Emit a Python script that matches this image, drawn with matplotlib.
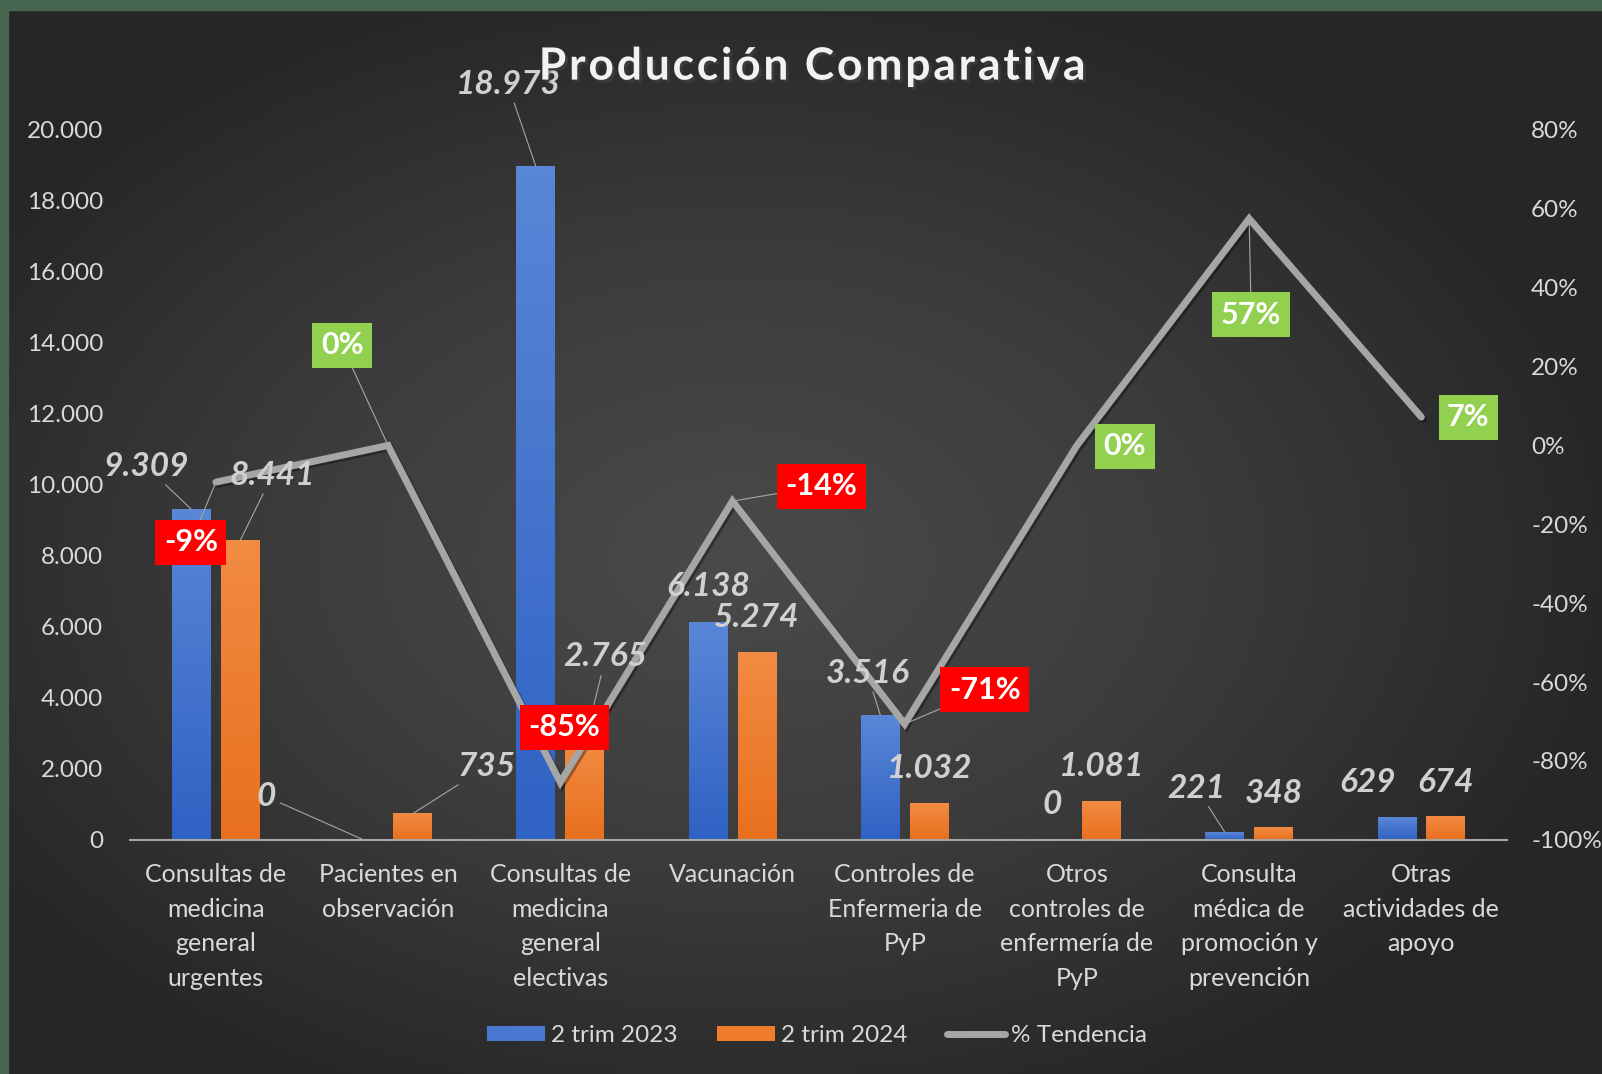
import numpy as np
import matplotlib
matplotlib.use("Agg")
import matplotlib.pyplot as plt
from matplotlib.colors import LinearSegmentedColormap
from matplotlib.patches import Rectangle, Patch
from matplotlib.lines import Line2D
from matplotlib.ticker import FuncFormatter, MultipleLocator
import matplotlib.patheffects as pe

plt.rcParams['font.family'] = ['Lato', 'DejaVu Sans']

# ---------------- data ----------------
categorias = ["Consultas de\nmedicina\ngeneral\nurgentes",
              "Pacientes en\nobservación",
              "Consultas de\nmedicina\ngeneral\nelectivas",
              "Vacunación",
              "Controles de\nEnfermeria de\nPyP",
              "Otros\ncontroles de\nenfermería de\nPyP",
              "Consulta\nmédica de\npromoción y\nprevención",
              "Otras\nactividades de\napoyo"]
trim_2023 = [9309, 0, 18973, 6138, 3516, 0, 221, 629]
trim_2024 = [8441, 735, 2765, 5274, 1032, 1081, 348, 674]
tendencia = [-0.093, 0.0, -0.854, -0.141, -0.706, 0.0, 0.575, 0.072]

# label placement (pixels, relative to the mark), leader lines on/off
off_2023 = [(-45, 43), (-97, 43), (-28, 82), (0, 35), (-13, 42), (0, 35), (-28, 44), (-29, 35)]
lead_2023 = [1, 1, 1, 0, 1, 0, 1, 0]
off_2024 = [(32, 65), (74, 47), (21, 85), (0, 35), (0, 35), (0, 35), (0, 34), (0, 33)]
lead_2024 = [1, 1, 1, 0, 0, 0, 0, 0]
off_pct = [(-25, -60), (-46, 100), (4, 55), (89, 15), (80, 34), (48, -1), (2, -96), (47, 0)]
lead_pct = [1, 1, 0, 1, 1, 0, 1, 0]

TXT = '#d9d9d9'
LEAD = '#a6a6a6'

fig = plt.figure(figsize=(16.02, 10.74), dpi=100)

# background: dark radial gradient + green frame
bg = fig.add_axes([0, 0, 1, 1], zorder=-10)
yy, xx = np.mgrid[0:1:300j, 0:1:450j]
r = np.sqrt(((xx - 0.46) / 0.75) ** 2 + ((yy - 0.52) / 0.75) ** 2)
r = np.clip(r / 0.75, 0, 1)
bg_cmap = LinearSegmentedColormap.from_list('bg', ['#4a4a4a', '#3c3c3c', '#262626'])
bg.imshow(r, cmap=bg_cmap, aspect='auto', extent=(0, 1, 0, 1), origin='upper')
bg.set_xlim(0, 1); bg.set_ylim(0, 1)
bg.axis('off')
fig.patches.append(Rectangle((0, 1 - 10 / 1074), 1, 10 / 1074, transform=fig.transFigure,
                             color='#45654f', zorder=5))
fig.patches.append(Rectangle((0, 0), 8 / 1602, 1, transform=fig.transFigure,
                             color='#45654f', zorder=5))

ax = fig.add_axes([0.081, 0.218, 0.86, 0.661])
ax.patch.set_alpha(0)
x = np.arange(len(categorias))
w = 0.225
d = 0.142

b1 = ax.bar(x - d, trim_2023, w, color='none')
b2 = ax.bar(x + d, trim_2024, w, color='none')


def gradient_bars(bars, c_top, c_bot):
    cm = LinearSegmentedColormap.from_list('g', [c_bot, c_top])
    grad = np.linspace(0, 1, 64).reshape(-1, 1)
    for b in bars:
        h = b.get_height()
        if h <= 0:
            continue
        x0 = b.get_x()
        ax.imshow(grad, cmap=cm, origin='lower', aspect='auto',
                  extent=(x0, x0 + b.get_width(), 0, h), zorder=2)


gradient_bars(b1, '#5a86d6', '#2f62c4')
gradient_bars(b2, '#f28b42', '#e8701e')

ax.set_xlim(-0.5, len(categorias) - 0.5)
ax.set_ylim(0, 20000)
ax.yaxis.set_major_locator(MultipleLocator(2000))
ax.yaxis.set_major_formatter(FuncFormatter(lambda v, p: f"{int(v):,}".replace(',', '.')))
ax.set_xticks(x)
ax.set_xticklabels(categorias, fontsize=18, color=TXT, linespacing=1.6)
ax.tick_params(axis='x', length=0, pad=17)
ax.tick_params(axis='y', length=0, pad=19, labelsize=17.5, labelcolor=TXT)
for s in ['top', 'left', 'right']:
    ax.spines[s].set_visible(False)
ax.spines['bottom'].set_color('#a6a6a6')
ax.spines['bottom'].set_linewidth(1.5)

ax2 = ax.twinx()
ax2.patch.set_alpha(0)
ax2.plot(x, tendencia, color='#a6a6a6', lw=5, solid_joinstyle='miter', solid_capstyle='round',
         path_effects=[pe.SimpleLineShadow(offset=(1.5, -1.5), alpha=0.35), pe.Normal()])
ax2.set_ylim(-1.0, 0.8)
ax2.yaxis.set_major_locator(MultipleLocator(0.2))
ax2.yaxis.set_major_formatter(FuncFormatter(lambda v, p: f"{v * 100:.0f}%"))
ax2.tick_params(axis='y', length=0, pad=17, labelsize=17.5, labelcolor=TXT)
for s in ax2.spines.values():
    s.set_visible(False)

# bar value labels
for vals, offs, leads, dx in [(trim_2023, off_2023, lead_2023, -d), (trim_2024, off_2024, lead_2024, d)]:
    for i, v in enumerate(vals):
        txt = f"{v:,}".replace(',', '.')
        arrow = dict(arrowstyle='-', color=LEAD, lw=0.8, shrinkA=1, shrinkB=0) if leads[i] else None
        ax2.annotate(txt, xy=(x[i] + dx, v), xycoords=ax.transData,
                     xytext=offs[i], textcoords='offset pixels',
                     ha='center', va='center', fontsize=24, fontweight='bold',
                     fontstyle='italic', color='#d0d0d0', arrowprops=arrow)

# percent labels
for i, v in enumerate(tendencia):
    fc = '#92d050' if v >= 0 else '#ff0000'
    arrow = dict(arrowstyle='-', color=LEAD, lw=0.8, shrinkA=0, shrinkB=0) if lead_pct[i] else None
    ax2.annotate(f"{round(v * 100):.0f}%", xy=(x[i], v), xycoords='data',
                 xytext=off_pct[i], textcoords='offset pixels',
                 ha='center', va='center', fontsize=22, fontweight='bold', color='white',
                 bbox=dict(boxstyle='square,pad=0.28', fc=fc, ec='none'),
                 arrowprops=arrow, zorder=6)

# title with expanded character spacing
titulo = "Producción Comparativa"
fig.text(0.507, 0.938, '\u200a'.join(titulo), ha='center', va='center',
         fontsize=32, fontweight='bold', color='#f2f2f2',
         path_effects=[pe.withSimplePatchShadow(offset=(2, -2), alpha=0.5)])

handles = [Patch(facecolor='#4a78d0', edgecolor='none'),
           Patch(facecolor='#ef7d2c', edgecolor='none'),
           Line2D([0], [0], color='#a6a6a6', lw=5, solid_capstyle='round')]
fig.legend(handles, ['2 trim 2023', '2 trim 2024', '% Tendencia'],
           loc='center', bbox_to_anchor=(0.51, 0.036), ncol=3, frameon=False,
           fontsize=17.5, labelcolor=TXT, handlelength=2.4, handleheight=0.6,
           handletextpad=0.25, columnspacing=1.6)

fig.savefig('out.png', dpi=100)
